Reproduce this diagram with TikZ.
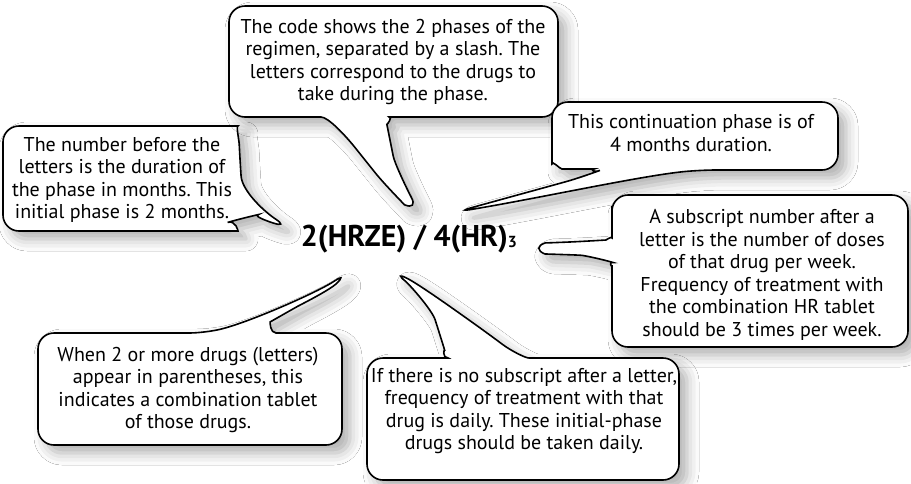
\documentclass[tikz,border=0pt]{standalone}
\usepackage{fontspec}
\setmainfont{PT Sans}
\usetikzlibrary{shadows.blur}
\frenchspacing

\begin{document}
\begin{tikzpicture}[x=1pt,y=-1pt,
    bubble/.style={draw=black, line width=1.6pt, fill=white, rounded corners=16pt,
      blur shadow={shadow xshift=8pt, shadow yshift=-8pt, shadow blur radius=12pt, shadow opacity=32}},
    note/.style={align=center, font=\fontsize{20}{22.5}\selectfont, inner sep=0pt}]
    \useasboundingbox[fill=white] (0,0) rectangle (911,483);
    \coordinate (tipA) at (289,228);
    \coordinate (tipB) at (419,211);
    \coordinate (tipC) at (456,212);
    \coordinate (tipD) at (530,248);
    \coordinate (tipE) at (348,272);
    \coordinate (tipF) at (393,271);
    \draw[bubble] (3,190) -- (3,126) -- (222,126) .. controls (236,126) and (239,140) .. (240,160) .. controls (242,190) and (262,210) .. (tipA) .. controls (270,222) and (252,216) .. (243,218) .. controls (236,220) and (238,231) .. (222,231) -- (3,231) -- cycle;
    \draw[bubble] (229,60) -- (229,6) -- (558,6) -- (558,117) -- (405,117) .. controls (393,117) and (387,125) .. (390,140) .. controls (395,165) and (410,195) .. (tipB) .. controls (405,205) and (385,185) .. (365,160) .. controls (345,135) and (328,117) .. (305,117) -- (229,117) -- cycle;
    \draw[bubble] (552,140) -- (552,102) -- (838,102) -- (838,170) -- (700,170) .. controls (640,176) and (540,198) .. (tipC) .. controls (510,197) and (565,182) .. (585,176) .. controls (593,173) and (590,169) .. (578,169) .. controls (560,169) and (552,160) .. (552,148) -- cycle;
    \draw[bubble] (908,270) -- (908,195) -- (612,195) -- (612,222) .. controls (612,236) and (606,240) .. (590,241) .. controls (570,242) and (545,243) .. (tipD) .. controls (545,254) and (580,255) .. (598,258) .. controls (608,261) and (612,268) .. (612,282) -- (612,347) -- (908,347) -- cycle;
    \draw[bubble] (38,400) -- (38,333) -- (205,333) .. controls (250,322) and (318,292) .. (tipE) .. controls (330,290) and (300,305) .. (284,314) .. controls (270,322) and (270,333) .. (292,333) -- (342,333) -- (342,445) -- (38,445) -- cycle;
    \draw[bubble] (367,420) -- (367,358) -- (432,358) .. controls (442,358) and (444,348) .. (440,335) .. controls (432,310) and (410,285) .. (tipF) .. controls (420,285) and (455,310) .. (490,335) .. controls (510,350) and (525,358) .. (545,358) -- (679,358) -- (679,480) -- (367,480) -- cycle;
    \node[font=\fontsize{30}{30}\selectfont\bfseries] (regimen) at (409,239) {2(HRZE) / 4(HR)\raisebox{-1pt}{\fontsize{16}{16}\selectfont 3}};
    \node[note] (duration) at (122,180) {The number before the\\letters is the duration of\\the phase in months. This\\initial phase is 2 months.};
    \node[note] (phases) at (393,62) {The code shows the 2 phases of the\\regimen, separated by a slash. The\\letters correspond to the drugs to\\take during the phase.};
    \node[note] (continuation) at (691,133) {This continuation phase is of\\4 months duration.};
    \node[note] (subscript) at (762,275) {A subscript number after a\\letter is the number of doses\\of that drug per week.\\Frequency of treatment with\\the combination HR tablet\\should be 3 times per week.};
    \node[note] (combination) at (188,390) {When 2 or more drugs (letters)\\appear in parentheses, this\\indicates a combination tablet\\of those drugs.};
    \node[note] (daily) at (524,411) {If there is no subscript after a letter,\\frequency of treatment with that\\drug is daily. These initial-phase\\drugs should be taken daily.};
\end{tikzpicture}
\end{document}
